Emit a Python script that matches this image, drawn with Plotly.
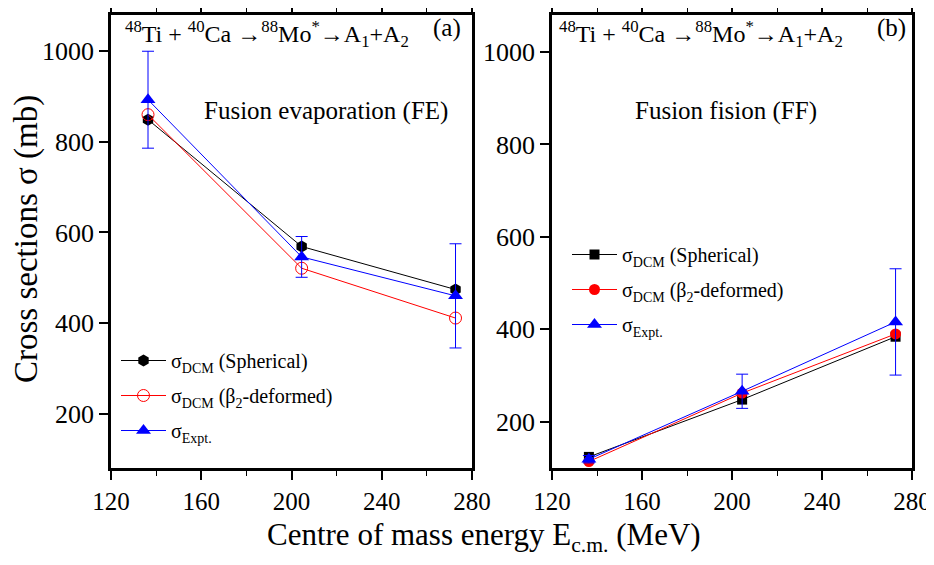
import plotly.graph_objects as go

# Data
energy = [136.4, 204.5, 272.7]
fe_spherical = [849, 569, 474]
fe_deformed = [860, 521, 411]
fe_expt = [893, 546, 460]
fe_expt_err = [107, 45, 115]

ff_spherical = [124, 248, 384]
ff_deformed = [114, 262, 390]
ff_expt = [119, 266, 416]
ff_expt_err = [8, 37, 115]

x_ticks = [120, 160, 200, 240, 280]
y_ticks = [200, 400, 600, 800, 1000]

lab_sph = "σ<sub>DCM</sub> (Spherical)"
lab_def = "σ<sub>DCM</sub> (β<sub>2</sub>-deformed)"
lab_exp = "σ<sub>Expt.</sub>"

W, H = 934, 565
OFF = 8  # page body margin offset of the rendered figure
FONT = "Liberation Serif"


def px(x):
    return (x - OFF) / W


def py(y):
    return 1 - (y - OFF) / H


fig = go.Figure()

# Left panel (FE)
fig.add_trace(go.Scatter(x=energy, y=fe_spherical, mode="lines+markers", name=lab_sph,
                         legendgroup="a1",
                         line=dict(color="black", width=1),
                         marker=dict(symbol="hexagon", size=12, color="black"),
                         xaxis="x", yaxis="y", legend="legend"))
fig.add_trace(go.Scatter(x=energy, y=fe_deformed, mode="lines+markers", name=lab_def,
                         legendgroup="a2",
                         line=dict(color="red", width=1),
                         marker=dict(symbol="circle-open", size=12, color="red", line=dict(width=1)),
                         xaxis="x", yaxis="y", legend="legend"))
fig.add_trace(go.Scatter(x=energy, y=fe_expt, mode="lines+markers", name=lab_exp,
                         legendgroup="a3",
                         line=dict(color="blue", width=1),
                         marker=dict(symbol="triangle-up", size=13, color="blue"),
                         error_y=dict(type="data", array=fe_expt_err, color="blue", thickness=1, width=6),
                         xaxis="x", yaxis="y", legend="legend"))

# Right panel (FF)
fig.add_trace(go.Scatter(x=energy, y=ff_spherical, mode="lines+markers", name=lab_sph,
                         legendgroup="b1",
                         line=dict(color="black", width=1),
                         marker=dict(symbol="square", size=10, color="black"),
                         xaxis="x2", yaxis="y2", legend="legend2"))
fig.add_trace(go.Scatter(x=energy, y=ff_deformed, mode="lines+markers", name=lab_def,
                         legendgroup="b2",
                         line=dict(color="red", width=1),
                         marker=dict(symbol="circle", size=11, color="red"),
                         xaxis="x2", yaxis="y2", legend="legend2"))
fig.add_trace(go.Scatter(x=energy, y=ff_expt, mode="lines+markers", name=lab_exp,
                         legendgroup="b3",
                         line=dict(color="blue", width=1),
                         marker=dict(symbol="triangle-up", size=13, color="blue"),
                         error_y=dict(type="data", array=ff_expt_err, color="blue", thickness=1, width=6),
                         xaxis="x2", yaxis="y2", legend="legend2"))

xcommon = dict(range=[120, 280], tickvals=x_ticks, ticks="outside",
               ticklen=9, tickwidth=2, tickcolor="black", showline=True, linecolor="black", linewidth=2.5,
               mirror="allticks", showgrid=False, zeroline=False, automargin=False,
               tickfont=dict(family=FONT, size=25, color="black"),
               minor=dict(dtick=20, ticks="outside", ticklen=5, tickwidth=1, tickcolor="black"))
ycommon = dict(tickvals=y_ticks, ticks="outside", ticklen=9, tickwidth=2, tickcolor="black",
               showline=True, linecolor="black", linewidth=2.5, mirror=True,
               showgrid=False, zeroline=False, automargin=False,
               tickfont=dict(family=FONT, size=26, color="black"))

legcommon = dict(font=dict(family=FONT, size=20, color="black"), bgcolor="rgba(0,0,0,0)",
                 xanchor="left", yanchor="top", tracegroupgap=6, itemwidth=45)

fig.update_layout(
    width=W, height=H, margin=dict(l=0, r=0, t=0, b=0, autoexpand=False),
    paper_bgcolor="white", plot_bgcolor="white",
    font=dict(family=FONT, color="black"),
    xaxis=dict(domain=[px(111), px(472)], anchor="y", **xcommon),
    yaxis=dict(domain=[py(468), py(15)], anchor="x", range=[80, 1080], **ycommon),
    xaxis2=dict(domain=[px(552), px(912)], anchor="y2", **xcommon),
    yaxis2=dict(domain=[py(468), py(15)], anchor="x2", range=[100, 1080], **ycommon),
    legend=dict(x=px(116), y=py(341), **legcommon),
    legend2=dict(x=px(567), y=py(235), **legcommon),
)

reaction = "<sup>48</sup>Ti + <sup>40</sup>Ca →<sup>88</sup>Mo<sup>*</sup>→A<sub>1</sub>+A<sub>2</sub>"
ann = [
    dict(text=reaction, x=123, y=34, xanchor="left", size=24),
    dict(text="(a)", x=447, y=28, xanchor="center", size=25),
    dict(text="Fusion evaporation (FE)", x=326, y=111, xanchor="center", size=25),
    dict(text=reaction, x=557, y=34, xanchor="left", size=24),
    dict(text="(b)", x=891, y=28, xanchor="center", size=25),
    dict(text="Fusion fision (FF)", x=726, y=111, xanchor="center", size=25),
    dict(text="Centre of mass energy E<sub>c.m.</sub> (MeV)", x=484, y=537, xanchor="center", size=31),
]
for a in ann:
    fig.add_annotation(xref="paper", yref="paper", x=px(a["x"]), y=py(a["y"]), text=a["text"],
                       showarrow=False, xanchor=a["xanchor"], yanchor="middle",
                       font=dict(family=FONT, size=a["size"], color="black"))
fig.add_annotation(xref="paper", yref="paper", x=px(27), y=py(239), text="Cross sections σ (mb)",
                   showarrow=False, textangle=-90, xanchor="center", yanchor="middle",
                   font=dict(family=FONT, size=33, color="black"))

fig.write_html("out.html")
